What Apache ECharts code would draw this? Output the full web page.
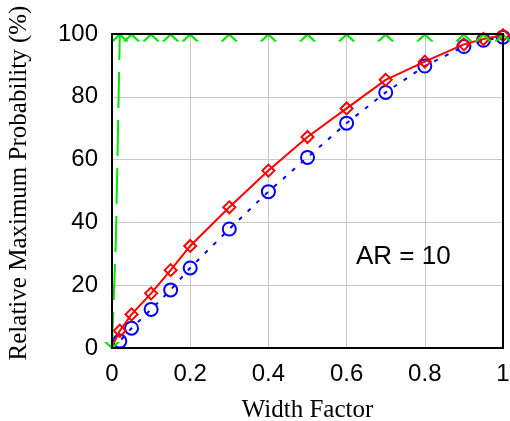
<!DOCTYPE html>
<html>
<head>
<meta charset="utf-8">
<script src="https://cdn.jsdelivr.net/npm/echarts@6/dist/echarts.min.js"></script>
<style>html,body{margin:0;padding:0;background:#fff}#c{width:510px;height:421px}</style>
</head>
<body>
<div id="c"></div>
<script>
// Data
var widthFactor = [0, 0.02, 0.05, 0.1, 0.15, 0.2, 0.3, 0.4, 0.5, 0.6, 0.7, 0.8, 0.9, 0.95, 1.0];
var redValues   = [0.5, 5.5, 10.7, 17.4, 24.8, 32.5, 44.8, 56.5, 67.2, 76.3, 85.4, 91.2, 96.7, 98.4, 99.6];
var blueValues  = [0.3, 2.2, 6.3, 12.3, 18.5, 25.5, 37.9, 49.8, 60.7, 71.6, 81.4, 89.8, 96.0, 98.0, 99.0];
var greenX      = [0, 0.01, 0.02, 0.05, 0.1, 0.15, 0.2, 0.3, 0.4, 0.5, 0.6, 0.7, 0.8, 0.9, 0.95, 1.0];
var greenValues = [0, 35, 100, 100, 100, 100, 100, 100, 100, 100, 100, 100, 100, 100, 100, 100];
var xTicks = [0, 0.2, 0.4, 0.6, 0.8, 1];
var yTicks = [0, 20, 40, 60, 80, 100];
var annotation = 'AR = 10';

function pairs(xs, ys) {
  return xs.map(function (x, i) {
    var item = { value: [x, ys[i]] };
    if (x === 0) item.symbol = 'none';
    return item;
  });
}

var greenData = greenX.map(function (x, i) {
  var y = greenValues[i];
  var item = { value: [x, y] };
  if (y >= 100) {
    item.symbol = 'path://M0,5L5,0L10,5';
    item.symbolSize = [15, 7];
    item.symbolOffset = [0, 4];
  } else if (y <= 0) {
    item.symbol = 'path://M0,0L5,5L10,0';
    item.symbolSize = [13, 6];
    item.symbolOffset = [0, -3];
  } else {
    item.symbol = 'none';
  }
  return item;
});

var G = { left: 112, right: 7, top: 34, bottom: 73 };
var W = 510, H = 421;

var chart = echarts.init(document.getElementById('c'), null, { renderer: 'canvas' });
chart.setOption({
  animation: false,
  backgroundColor: '#fff',
  grid: { left: G.left, right: G.right, top: G.top, bottom: G.bottom, show: false,
          containLabel: false, outerBoundsMode: 'none' },
  xAxis: {
    type: 'value', min: xTicks[0], max: xTicks[xTicks.length - 1], interval: 0.2,
    name: 'Width Factor', nameLocation: 'middle', nameGap: 50,
    nameTextStyle: { fontFamily: 'Liberation Serif', fontSize: 25, color: '#000' },
    axisLine: { lineStyle: { color: '#000', width: 2 } },
    axisTick: { show: false },
    axisLabel: { fontFamily: 'Liberation Sans', fontSize: 24, color: '#000', margin: 14,
      formatter: function (v) { return String(+v.toFixed(1)); } },
    splitLine: { show: true, lineStyle: { color: '#c8c8c8', width: 1 } }
  },
  yAxis: {
    type: 'value', min: yTicks[0], max: yTicks[yTicks.length - 1], interval: 20,
    name: 'Relative Maximum Probability (%)', nameLocation: 'middle', nameGap: 80,
    nameTextStyle: { fontFamily: 'Liberation Serif', fontSize: 25, color: '#000', padding: [0, 0, 0, 16] },
    axisLine: { lineStyle: { color: '#000', width: 2 } },
    axisTick: { show: false },
    axisLabel: { fontFamily: 'Liberation Sans', fontSize: 24, color: '#000', margin: 14 },
    splitLine: { show: true, lineStyle: { color: '#c8c8c8', width: 1 } }
  },
  graphic: [
    {
      type: 'text', left: 356, top: 244, z: 50,
      style: { text: annotation, font: '26px "Liberation Sans"', fill: '#000' }
    },
    {
      type: 'rect', z: 100, silent: true,
      shape: { x: G.left, y: G.top, width: W - G.left - G.right, height: H - G.top - G.bottom },
      style: { fill: 'none', stroke: '#000', lineWidth: 2 }
    }
  ],
  series: [
    {
      type: 'line', data: pairs(widthFactor, blueValues), clip: false,
      symbol: 'circle', symbolSize: 13, showSymbol: true,
      lineStyle: { color: '#0000ff', width: 2, type: [4, 8] },
      itemStyle: { color: 'rgba(0,0,0,0)', borderColor: '#0000ff', borderWidth: 2 },
      z: 3
    },
    {
      type: 'line', data: pairs(widthFactor, redValues), clip: false,
      symbol: 'diamond', symbolSize: 12,
      lineStyle: { color: '#ff0000', width: 2 },
      itemStyle: { color: 'rgba(0,0,0,0)', borderColor: '#ff0000', borderWidth: 2 },
      z: 4
    },
    {
      type: 'line', data: greenData, clip: false,
      lineStyle: { color: '#00e600', width: 2, type: [36, 12] },
      itemStyle: { color: 'rgba(0,0,0,0)', borderColor: '#00e600', borderWidth: 2 },
      z: 5
    }
  ]
});
</script>
</body>
</html>
